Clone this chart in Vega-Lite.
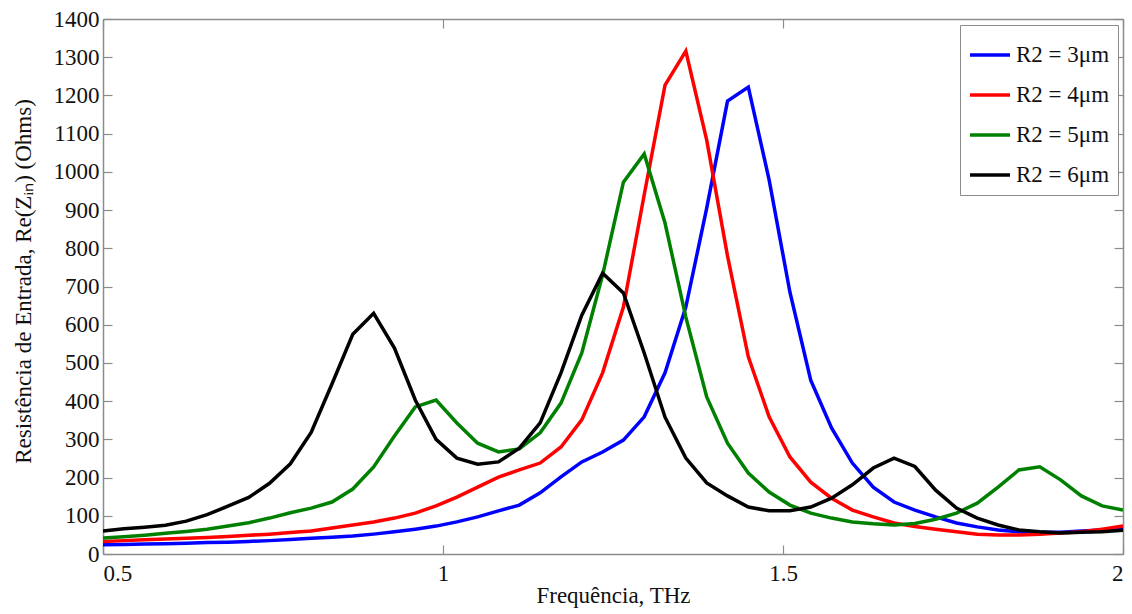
{
  "$schema": "https://vega.github.io/schema/vega-lite/v6.json",
  "width": 1020,
  "height": 535,
  "autosize": {"type": "none"},
  "padding": {"left": 103, "top": 19, "right": 9, "bottom": 60},
  "background": "white",
  "config": {
    "font": "Liberation Serif",
    "view": {"stroke": null},
    "axis": {
      "domainColor": "#8c8c8c",
      "tickColor": "#8c8c8c",
      "domainWidth": 1.5,
      "tickWidth": 1.2,
      "tickSize": -9,
      "grid": false,
      "labelColor": "#111111",
      "labelFontSize": 23,
      "titleColor": "#111111",
      "titleFontSize": 23,
      "titleFontWeight": "normal"
    }
  },
  "data": {
    "values": [
      {"f": 0.5, "R2 = 3μm": 24, "R2 = 4μm": 33, "R2 = 5μm": 42, "R2 = 6μm": 60},
      {"f": 0.5306, "R2 = 3μm": 25, "R2 = 4μm": 35, "R2 = 5μm": 45, "R2 = 6μm": 66},
      {"f": 0.5612, "R2 = 3μm": 26, "R2 = 4μm": 37, "R2 = 5μm": 49, "R2 = 6μm": 70},
      {"f": 0.5918, "R2 = 3μm": 27, "R2 = 4μm": 39, "R2 = 5μm": 54, "R2 = 6μm": 75},
      {"f": 0.6224, "R2 = 3μm": 28, "R2 = 4μm": 41, "R2 = 5μm": 59, "R2 = 6μm": 86},
      {"f": 0.6531, "R2 = 3μm": 30, "R2 = 4μm": 43, "R2 = 5μm": 65, "R2 = 6μm": 103},
      {"f": 0.6837, "R2 = 3μm": 31, "R2 = 4μm": 46, "R2 = 5μm": 73, "R2 = 6μm": 125},
      {"f": 0.7143, "R2 = 3μm": 33, "R2 = 4μm": 49, "R2 = 5μm": 82, "R2 = 6μm": 148},
      {"f": 0.7449, "R2 = 3μm": 35, "R2 = 4μm": 52, "R2 = 5μm": 94, "R2 = 6μm": 185},
      {"f": 0.7755, "R2 = 3μm": 38, "R2 = 4μm": 56, "R2 = 5μm": 108, "R2 = 6μm": 236},
      {"f": 0.8061, "R2 = 3μm": 41, "R2 = 4μm": 60, "R2 = 5μm": 120, "R2 = 6μm": 318},
      {"f": 0.8367, "R2 = 3μm": 44, "R2 = 4μm": 68, "R2 = 5μm": 136, "R2 = 6μm": 445},
      {"f": 0.8673, "R2 = 3μm": 47, "R2 = 4μm": 76, "R2 = 5μm": 170, "R2 = 6μm": 575},
      {"f": 0.898, "R2 = 3μm": 52, "R2 = 4μm": 84, "R2 = 5μm": 228, "R2 = 6μm": 630},
      {"f": 0.9286, "R2 = 3μm": 58, "R2 = 4μm": 94, "R2 = 5μm": 309, "R2 = 6μm": 539},
      {"f": 0.9592, "R2 = 3μm": 65, "R2 = 4μm": 107, "R2 = 5μm": 385, "R2 = 6μm": 403},
      {"f": 0.9898, "R2 = 3μm": 73, "R2 = 4μm": 126, "R2 = 5μm": 403, "R2 = 6μm": 300},
      {"f": 1.0204, "R2 = 3μm": 84, "R2 = 4μm": 149, "R2 = 5μm": 343, "R2 = 6μm": 251},
      {"f": 1.051, "R2 = 3μm": 97, "R2 = 4μm": 175, "R2 = 5μm": 290, "R2 = 6μm": 235},
      {"f": 1.0816, "R2 = 3μm": 113, "R2 = 4μm": 201, "R2 = 5μm": 267, "R2 = 6μm": 241},
      {"f": 1.1122, "R2 = 3μm": 128, "R2 = 4μm": 220, "R2 = 5μm": 275, "R2 = 6μm": 277},
      {"f": 1.1429, "R2 = 3μm": 160, "R2 = 4μm": 238, "R2 = 5μm": 317, "R2 = 6μm": 343},
      {"f": 1.1735, "R2 = 3μm": 202, "R2 = 4μm": 280, "R2 = 5μm": 395, "R2 = 6μm": 474},
      {"f": 1.2041, "R2 = 3μm": 241, "R2 = 4μm": 351, "R2 = 5μm": 526, "R2 = 6μm": 625},
      {"f": 1.2347, "R2 = 3μm": 267, "R2 = 4μm": 474, "R2 = 5μm": 730, "R2 = 6μm": 735},
      {"f": 1.2653, "R2 = 3μm": 298, "R2 = 4μm": 646, "R2 = 5μm": 973, "R2 = 6μm": 683},
      {"f": 1.2959, "R2 = 3μm": 359, "R2 = 4μm": 940, "R2 = 5μm": 1047, "R2 = 6μm": 526},
      {"f": 1.3265, "R2 = 3μm": 474, "R2 = 4μm": 1227, "R2 = 5μm": 866, "R2 = 6μm": 358},
      {"f": 1.3571, "R2 = 3μm": 646, "R2 = 4μm": 1316, "R2 = 5μm": 620, "R2 = 6μm": 251},
      {"f": 1.3878, "R2 = 3μm": 905, "R2 = 4μm": 1083, "R2 = 5μm": 411, "R2 = 6μm": 186},
      {"f": 1.4184, "R2 = 3μm": 1185, "R2 = 4μm": 780, "R2 = 5μm": 290, "R2 = 6μm": 152},
      {"f": 1.449, "R2 = 3μm": 1222, "R2 = 4μm": 516, "R2 = 5μm": 212, "R2 = 6μm": 123},
      {"f": 1.4796, "R2 = 3μm": 979, "R2 = 4μm": 359, "R2 = 5μm": 162, "R2 = 6μm": 113},
      {"f": 1.5102, "R2 = 3μm": 685, "R2 = 4μm": 254, "R2 = 5μm": 128, "R2 = 6μm": 113},
      {"f": 1.5408, "R2 = 3μm": 455, "R2 = 4μm": 188, "R2 = 5μm": 107, "R2 = 6μm": 123},
      {"f": 1.5714, "R2 = 3μm": 330, "R2 = 4μm": 146, "R2 = 5μm": 94, "R2 = 6μm": 146},
      {"f": 1.602, "R2 = 3μm": 238, "R2 = 4μm": 115, "R2 = 5μm": 84, "R2 = 6μm": 181},
      {"f": 1.6327, "R2 = 3μm": 175, "R2 = 4μm": 97, "R2 = 5μm": 79, "R2 = 6μm": 225},
      {"f": 1.6633, "R2 = 3μm": 136, "R2 = 4μm": 81, "R2 = 5μm": 76, "R2 = 6μm": 251},
      {"f": 1.6939, "R2 = 3μm": 115, "R2 = 4μm": 72, "R2 = 5μm": 80, "R2 = 6μm": 229},
      {"f": 1.7245, "R2 = 3μm": 97, "R2 = 4μm": 65, "R2 = 5μm": 91, "R2 = 6μm": 167},
      {"f": 1.7551, "R2 = 3μm": 81, "R2 = 4μm": 58, "R2 = 5μm": 107, "R2 = 6μm": 120},
      {"f": 1.7857, "R2 = 3μm": 71, "R2 = 4μm": 52, "R2 = 5μm": 133, "R2 = 6μm": 94},
      {"f": 1.8163, "R2 = 3μm": 63, "R2 = 4μm": 50, "R2 = 5μm": 175, "R2 = 6μm": 76},
      {"f": 1.8469, "R2 = 3μm": 58, "R2 = 4μm": 50, "R2 = 5μm": 220, "R2 = 6μm": 63},
      {"f": 1.8776, "R2 = 3μm": 57, "R2 = 4μm": 52, "R2 = 5μm": 228, "R2 = 6μm": 58},
      {"f": 1.9082, "R2 = 3μm": 57, "R2 = 4μm": 55, "R2 = 5μm": 194, "R2 = 6μm": 55},
      {"f": 1.9388, "R2 = 3μm": 60, "R2 = 4μm": 58, "R2 = 5μm": 152, "R2 = 6μm": 57},
      {"f": 1.9694, "R2 = 3μm": 63, "R2 = 4μm": 65, "R2 = 5μm": 126, "R2 = 6μm": 58},
      {"f": 2.0, "R2 = 3μm": 66, "R2 = 4μm": 73, "R2 = 5μm": 115, "R2 = 6μm": 62}
    ]
  },
  "transform": [
    {"fold": ["R2 = 3μm", "R2 = 4μm", "R2 = 5μm", "R2 = 6μm"], "as": ["serie", "val"]}
  ],
  "layer": [
    {
      "mark": {"type": "line", "strokeWidth": 3.5, "clip": true},
      "encoding": {
        "x": {
          "field": "f", "type": "quantitative",
          "scale": {"domain": [0.5, 2], "nice": false, "zero": false},
          "axis": {"values": [0.5, 1, 1.5, 2], "format": "~g", "title": "Frequência, THz", "labelPadding": 17, "titleY": 48, "titleBaseline": "alphabetic", "titleX": 510, "titleAlign": "center"}
        },
        "y": {
          "field": "val", "type": "quantitative",
          "scale": {"domain": [0, 1400], "nice": false},
          "axis": {"values": [0, 100, 200, 300, 400, 500, 600, 700, 800, 900, 1000, 1100, 1200, 1300, 1400], "format": "d", "title": "Resistência de Entrada, Re(Zᵢₙ) (Ohms)", "labelPadding": 13, "titleX": -80, "titleY": 262, "titleBaseline": "middle", "titleAlign": "center", "titleAngle": 270}
        },
        "color": {
          "field": "serie", "type": "nominal",
          "scale": {"domain": ["R2 = 3μm", "R2 = 4μm", "R2 = 5μm", "R2 = 6μm"], "range": ["#0000ff", "#ff0000", "#008000", "#000000"]},
          "legend": {
            "title": null, "orient": "none", "legendX": 857, "legendY": 6,
            "symbolType": "stroke", "symbolSize": 1600, "symbolStrokeWidth": 3.5,
            "labelFontSize": 23, "labelColor": "#111111", "labelFont": "Liberation Serif",
            "strokeColor": "#8c8c8c", "fillColor": "white", "padding": 8, "rowPadding": 6, "labelOffset": 4
          }
        }
      }
    },
    {
      "mark": {"type": "line", "opacity": 0},
      "encoding": {
        "x": {"field": "f", "type": "quantitative", "axis": {"orient": "top", "values": [0.5, 1, 1.5, 2], "labels": false, "title": null}},
        "y": {"field": "val", "type": "quantitative", "axis": {"orient": "right", "values": [0, 100, 200, 300, 400, 500, 600, 700, 800, 900, 1000, 1100, 1200, 1300, 1400], "labels": false, "title": null}},
        "detail": {"field": "serie"}
      }
    }
  ],
  "resolve": {"axis": {"x": "independent", "y": "independent"}}
}
